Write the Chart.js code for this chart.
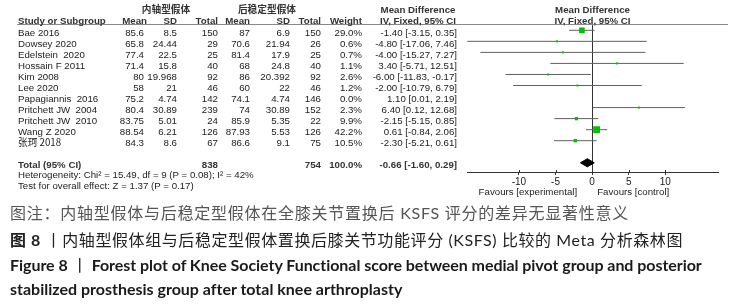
<!DOCTYPE html>
<html>
<head>
<meta charset="utf-8">
<script src="https://cdn.jsdelivr.net/npm/chart.js@4.4.1/dist/chart.umd.min.js"></script>
<style>
  body { margin: 0; background: #fff; width: 737px; height: 304px; overflow: hidden; position: relative;
         font-family: "Liberation Sans", Arial, sans-serif; }
  #plot { position: absolute; left: 0; top: 0; }
  .t { position: absolute; font-size: 9.7px; line-height: 11px; height: 11px; color: #222; white-space: pre; }
  .r { text-align: right; }
  .b { font-weight: bold; color: #333; }
  .cjk { font-family: "Noto Sans CJK SC", sans-serif; }
  .cap { position: absolute; left: 10px; white-space: pre; line-height: 20px; height: 20px;
         font-family: "Lato", "Noto Sans CJK SC", sans-serif; font-size: 16px; }
  #rule { position: absolute; left: 17px; width: 711px; top: 24px; height: 0; border-top: 1px solid #888; }
</style>
</head>
<body>
<canvas id="plot" width="737" height="200"></canvas>
<div id="rule"></div>
<div id="table"></div>
<div class="cap" id="cap1" style="top:203px;color:#555">图注：内轴型假体与后稳定型假体在全膝关节置换后 KSFS 评分的差异无显著性意义</div>
<div class="cap" id="cap2" style="top:230px;color:#222"><b>图 8</b> 丨内轴型假体组与后稳定型假体置换后膝关节功能评分 (KSFS) 比较的 Meta 分析森林图</div>
<div class="cap" id="cap3" style="top:255px;color:#1a1a1a"><b>Figure 8</b> 丨 <b>Forest plot of Knee Society Functional score between medial pivot group and posterior</b></div>
<div class="cap" id="cap4" style="top:279px;color:#1a1a1a;font-weight:bold">stabilized prosthesis group after total knee arthroplasty</div>

<script>
// 研究ごとのデータ
const studies = ['Bae 2016', 'Dowsey 2020', 'Edelstein  2020', 'Hossain F 2011', 'Kim 2008', 'Lee 2020',
  'Papagiannis  2016', 'Pritchett JW  2004', 'Pritchett JW  2010', 'Wang Z 2020', '张珂 2018'];
const mpMean = [85.6, 65.8, 77.4, 71.4, 80, 58, 75.2, 80.4, 83.75, 88.54, 84.3];
const mpSD = [8.5, 24.44, 22.5, 15.8, 19.968, 21, 4.74, 30.89, 5.01, 6.21, 8.6];
const mpTotal = [150, 29, 25, 40, 92, 46, 142, 239, 24, 126, 67];
const psMean = [87, 70.6, 81.4, 68, 86, 60, 74.1, 74, 85.9, 87.93, 86.6];
const psSD = [6.9, 21.94, 17.9, 24.8, 20.392, 22, 4.74, 30.89, 5.35, 5.53, 9.1];
const psTotal = [150, 26, 25, 40, 92, 46, 146, 152, 22, 126, 75];
const weight = [29.0, 0.6, 0.7, 1.1, 2.6, 1.2, 0.0, 2.3, 9.9, 42.2, 10.5];
const md = [-1.40, -4.80, -4.00, 3.40, -6.00, -2.00, 1.10, 6.40, -2.15, 0.61, -2.30];
const ciLow = [-3.15, -17.06, -15.27, -5.71, -11.83, -10.79, 0.01, 0.12, -5.15, -0.84, -5.21];
const ciHigh = [0.35, 7.46, 7.27, 12.51, -0.17, 6.79, 2.19, 12.68, 0.85, 2.06, 0.61];

// 合計
const totalMp = 838;
const totalPs = 754;
const pooled = [-0.66, -1.60, 0.29];  // MD, low, high
const heterogeneity = 'Heterogeneity: Chi² = 15.49, df = 9 (P = 0.08); I² = 42%';
const overallTest = 'Test for overall effect: Z = 1.37 (P = 0.17)';

const xTicks = [-10, -5, 0, 5, 10];
const totalRow = 12;

// CI の線（重み 0 の研究は描かない）
let ciSets = studies.map((s, i) => ({
  data: [{x: ciLow[i], y: i}, {x: ciHigh[i], y: i}],
  showLine: true, pointRadius: 0, borderColor: '#606060', borderWidth: 1, order: 2,
  hidden: weight[i] === 0
}));

let squareSet = {
  data: studies.map((s, i) => weight[i] > 0 ? {x: md[i], y: i} : null).filter(p => p),
  pointStyle: 'rect',
  pointRadius: ctx => {
    let w = weight[ctx.raw ? ctx.raw.y : 0];
    return Math.max(2, 1.05 * Math.sqrt(w)) / Math.SQRT2;
  },
  backgroundColor: '#00c000', borderColor: '#00c000', borderWidth: 0, order: 0
};

let diamondSet = {
  data: [
    {x: pooled[1], y: totalRow}, {x: pooled[0], y: totalRow - 0.37},
    {x: pooled[2], y: totalRow}, {x: pooled[0], y: totalRow + 0.37},
    {x: pooled[1], y: totalRow}
  ],
  showLine: true, fill: 'shape', pointRadius: 0, tension: 0,
  backgroundColor: '#000', borderColor: '#000', borderWidth: 1, order: 0
};

// 軸の上側の小さな目盛り
const tickStubs = {
  id: 'tickStubs',
  afterDraw(chart) {
    let x = chart.scales.x, ctx = chart.ctx;
    ctx.save();
    ctx.strokeStyle = '#333';
    ctx.lineWidth = 1;
    x.ticks.forEach(t => {
      let px = Math.round(x.getPixelForValue(t.value)) + 0.5;
      ctx.beginPath();
      ctx.moveTo(px, x.top - 2);
      ctx.lineTo(px, x.top);
      ctx.stroke();
    });
    ctx.restore();
  }
};

let chart = new Chart(document.getElementById('plot'), {
  type: 'scatter',
  data: { datasets: [...ciSets, squareSet, diamondSet] },
  options: {
    responsive: false,
    animation: false,
    devicePixelRatio: 1,
    layout: { autoPadding: false, padding: { left: 467, right: 19, top: 25, bottom: 0 } },
    plugins: { legend: { display: false }, tooltip: { enabled: false } },
    scales: {
      x: {
        type: 'linear', min: -17.1, max: 17.2,
        afterBuildTicks: scale => { scale.ticks = xTicks.map(v => ({ value: v })); },
        afterFit: scale => { scale.height = 28; },
        grid: {
          color: ctx => (ctx.tick && ctx.tick.value === 0) ? '#333' : 'rgba(0,0,0,0)',
          tickColor: '#333', tickLength: 3, drawTicks: true
        },
        border: { display: true, color: '#333', width: 1 },
        ticks: { color: '#222', padding: 1, font: { family: 'Liberation Sans', size: 10 } }
      },
      y: {
        type: 'linear', display: false, reverse: true, min: -0.48, max: 12.835
      }
    }
  },
  plugins: [tickStubs]
});

// 表の文字
let table = document.getElementById('table');
function put(text, x, cy, align, cls) {
  let d = document.createElement('div');
  d.className = 't ' + (cls || '');
  d.textContent = text;
  d.style.top = (cy - 5.5) + 'px';
  if (align === 'right') {
    d.classList.add('r');
    d.style.right = (737 - x) + 'px';
  } else if (align === 'center') {
    d.style.left = (x - 100) + 'px';
    d.style.width = '200px';
    d.style.textAlign = 'center';
  } else {
    d.style.left = x + 'px';
  }
  table.appendChild(d);
}

let ys = chart.scales.y;
let headCols = [147, 177, 218, 250, 290, 321, 362];
let cols = [144, 177, 218, 250, 290, 321, 362, 457];
let mdCenter = 418, plotCenter = (chart.chartArea.left + chart.chartArea.right) / 2;

put('内轴型假体', 166, 9.5, 'center', 'b cjk');
put('后稳定型假体', 267, 9.5, 'center', 'b cjk');
put('Mean Difference', mdCenter, 9.5, 'center', 'b');
put('Mean Difference', plotCenter, 9.5, 'center', 'b');
put('Study or Subgroup', 18, 20.5, 'left', 'b');
['Mean', 'SD', 'Total', 'Mean', 'SD', 'Total', 'Weight'].forEach((h, k) => put(h, headCols[k], 20.5, 'right', 'b'));
put('IV, Fixed, 95% CI', mdCenter, 20.5, 'center', 'b');
put('IV, Fixed, 95% CI', plotCenter, 20.5, 'center', 'b');

let fmtCI = (m, l, h) => m.toFixed(2) + ' [' + l.toFixed(2) + ', ' + h.toFixed(2) + ']';

studies.forEach((s, i) => {
  let cy = ys.getPixelForValue(i) + 2;
  put(s, 18, cy, 'left', /[\u4e00-\u9fff]/.test(s) ? 'cjk' : '');
  let vals = [mpMean[i], mpSD[i], mpTotal[i], psMean[i], psSD[i], psTotal[i]].map(String);
  vals.push(weight[i].toFixed(1) + '%');
  vals.push(fmtCI(md[i], ciLow[i], ciHigh[i]));
  vals.forEach((v, k) => put(v, cols[k], cy, 'right'));
});

let tcy = ys.getPixelForValue(totalRow) + 1.5;
put('Total (95% CI)', 18, tcy, 'left', 'b');
put(String(totalMp), cols[2], tcy, 'right', 'b');
put(String(totalPs), cols[5], tcy, 'right', 'b');
put('100.0%', cols[6], tcy, 'right', 'b');
put(fmtCI(pooled[0], pooled[1], pooled[2]), cols[7], tcy, 'right', 'b');
put(heterogeneity, 18, tcy + 10.5, 'left');
put(overallTest, 18, tcy + 21, 'left');

let zeroX = chart.scales.x.getPixelForValue(0);
put('Favours [experimental]', zeroX - 15, 191, 'right', '');
put('Favours [control]', zeroX + 5, 191, 'left', '');

// キャプションの幅を合わせる
function fit(id, target) {
  let el = document.getElementById(id);
  let w = el.getBoundingClientRect().width;
  let n = el.textContent.length;
  el.style.letterSpacing = ((target - w) / n) + 'px';
}
fit('cap1', 619);
fit('cap2', 673);
fit('cap3', 692);
fit('cap4', 392);
</script>
</body>
</html>
